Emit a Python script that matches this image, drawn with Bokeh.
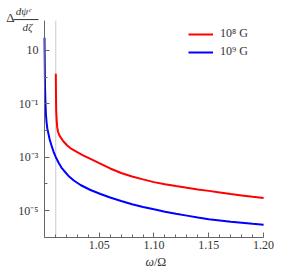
from bokeh.plotting import figure
from bokeh.models import (FixedTicker, CustomJSTickFormatter, Label, Legend,
                          LegendItem, Arrow, NumeralTickFormatter, LinearAxis, LogAxis)
from bokeh.embed import file_html
from bokeh.resources import INLINE

# ---- data ----
red_omega = [1.0104, 1.01058, 1.01077, 1.01122, 1.01168, 1.01241, 1.01332, 1.01469,
             1.01743, 1.0208, 1.02473, 1.02993, 1.03568, 1.04206, 1.05, 1.06, 1.07,
             1.08, 1.09, 1.10, 1.11, 1.12, 1.13, 1.14, 1.15, 1.16, 1.17, 1.18, 1.19, 1.20]
red_vals = [1.34, 0.206, 0.0565, 0.0238, 0.01337, 0.00923, 0.00713, 0.00565, 0.0039,
            0.00276, 0.00204, 0.00155, 0.00116, 8.75e-4, 6.03e-4, 3.8e-4, 2.57e-4,
            1.91e-4, 1.48e-4, 1.17e-4, 9.8e-5, 8.3e-5, 7.16e-5, 6.24e-5, 5.5e-5,
            4.79e-5, 4.17e-5, 3.72e-5, 3.31e-5, 2.95e-5]

blue_omega = [1.0001, 1.0003, 1.00055, 1.0009, 1.00137, 1.002, 1.00274, 1.00365,
              1.00484, 1.00648, 1.0083, 1.0104, 1.01287, 1.01551, 1.0177, 1.022,
              1.02682, 1.03294, 1.04206, 1.05119, 1.06, 1.07, 1.08, 1.09, 1.10, 1.11,
              1.12, 1.13, 1.14, 1.15, 1.16, 1.17, 1.18, 1.19, 1.20]
blue_vals = [29.9, 4.2, 0.489, 0.134, 0.0425, 0.02, 0.01146, 0.00776, 0.00462, 0.00276,
             0.00164, 0.00101, 6.37e-4, 4.13e-4, 3.19e-4, 1.99e-4, 1.35e-4, 9.14e-5,
             5.93e-5, 4.2e-5, 3.09e-5, 2.29e-5, 1.74e-5, 1.38e-5, 1.12e-5, 9.1e-6,
             7.6e-6, 6.5e-6, 5.5e-6, 4.8e-6, 4.3e-6, 3.8e-6, 3.5e-6, 3.2e-6, 2.95e-6]

series_labels = ["10\u2078 G", "10\u2079 G"]
threshold_omega = 1.0104

x_bounds = (1.0, 1.2)
y_bounds = (1e-6, 130)
x_major_ticks = [1.05, 1.10, 1.15, 1.20]
x_minor_ticks = [1.01, 1.02, 1.03, 1.04, 1.06, 1.07, 1.08, 1.09, 1.11, 1.12, 1.13,
                 1.14, 1.16, 1.17, 1.18, 1.19]
y_major_ticks = [1e1, 1e-1, 1e-3, 1e-5]
y_major_labels = ["10", "10\u207b\u00b9", "10\u207b\u00b3", "10\u207b\u2075"]
y_minor_ticks = [1e0, 1e-2, 1e-4, 1e-6]

FONT = "Liberation Serif"
TXT = "#333333"
AX = "#666666"

# frame covers the whole canvas; axes are drawn at fixed data locations
p = figure(width=291, height=274, x_range=(0.95995, 1.22546), y_range=(4.05e-8, 746),
           y_axis_type="log", x_axis_location=None, y_axis_location=None,
           output_backend="svg", toolbar_location=None,
           min_border=0, min_border_left=0, min_border_right=0,
           min_border_top=0, min_border_bottom=0)
p.outline_line_color = None
p.xgrid.visible = False
p.ygrid.visible = False
p.background_fill_color = "white"
p.border_fill_color = "white"

# threshold line
p.segment(x0=[threshold_omega], y0=[y_bounds[0]], x1=[threshold_omega], y1=[y_bounds[1]],
          line_color="#c8c8c8", line_width=1)

r_red = p.line(red_omega, red_vals, line_color="#ff0000", line_width=2)
r_blue = p.line(blue_omega, blue_vals, line_color="#0000ff", line_width=2)

# axes
xa = LinearAxis(fixed_location=y_bounds[0], bounds=x_bounds,
                ticker=FixedTicker(ticks=x_major_ticks, minor_ticks=x_minor_ticks),
                formatter=NumeralTickFormatter(format="0.00"))
ya = LogAxis(fixed_location=x_bounds[0], bounds=y_bounds,
             ticker=FixedTicker(ticks=y_major_ticks, minor_ticks=y_minor_ticks),
             formatter=CustomJSTickFormatter(args=dict(t=y_major_ticks, l=y_major_labels), code="""
    for (let i = 0; i < t.length; i++) {
        if (Math.abs(Math.log10(t[i]) - Math.log10(tick)) < 1e-6) return l[i];
    }
    return "";
"""))
for ax in (xa, ya):
    ax.axis_line_color = AX
    ax.major_tick_line_color = AX
    ax.minor_tick_line_color = AX
    ax.major_tick_in = 5
    ax.major_tick_out = 0
    ax.minor_tick_in = 3
    ax.minor_tick_out = 0
    ax.major_label_text_font = FONT
    ax.major_label_text_font_size = "12px"
    ax.major_label_text_color = TXT
xa.major_label_standoff = 4
ya.major_label_standoff = 6
p.add_layout(xa, "below")
p.add_layout(ya, "left")

# x axis label: ω/Ω
p.add_layout(Label(x=1.1, y=1.19e-7, text="\u03c9", text_font=FONT,
                   text_font_size="12px", text_color=TXT, text_font_style="italic",
                   text_align="right", text_baseline="middle"))
p.add_layout(Label(x=1.1, y=1.19e-7, text="/\u03a9", text_font=FONT,
                   text_font_size="12px", text_color=TXT,
                   text_align="left", text_baseline="middle"))

# y axis label: Δ dψ^c/dζ
p.add_layout(Label(x=0.9691, y=165, text="\u0394", text_font=FONT,
                   text_font_size="13px", text_color=TXT,
                   text_align="center", text_baseline="middle"))
p.add_layout(Label(x=0.9809, y=289, text="d\u03c8\u1d9c", text_font=FONT,
                   text_font_size="11px", text_color=TXT, text_font_style="italic",
                   text_align="center", text_baseline="middle"))
p.add_layout(Label(x=0.9846, y=76, text="d\u03b6", text_font=FONT,
                   text_font_size="11px", text_color=TXT, text_font_style="italic",
                   text_align="center", text_baseline="middle"))
p.add_layout(Arrow(start=None, end=None, x_start=0.9718, x_end=0.9946,
                   y_start=144, y_end=144, line_color=TXT, line_width=1))

legend = Legend(items=[LegendItem(label=series_labels[0], renderers=[r_red]),
                       LegendItem(label=series_labels[1], renderers=[r_blue])],
                location=(188, 215), border_line_color=None, background_fill_alpha=0,
                label_text_font=FONT, label_text_font_size="12px",
                label_text_color=TXT, glyph_width=25, glyph_height=14,
                label_height=14, spacing=3, padding=0, margin=0, label_standoff=7)
p.add_layout(legend)

open("out.html", "w").write(file_html(p, INLINE))
